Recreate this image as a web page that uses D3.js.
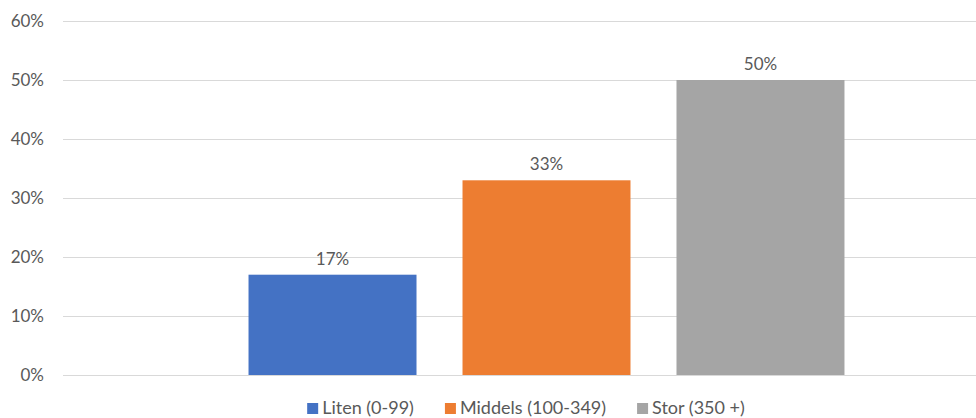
<!DOCTYPE html>
<html>
<head>
<meta charset="utf-8">
<script src="https://cdn.jsdelivr.net/npm/d3@7"></script>
<style>
  html, body { margin: 0; padding: 0; background: #fff; }
  svg { display: block; }
  text { font-family: Lato, "Open Sans", sans-serif; fill: #595959; }
</style>
</head>
<body>
<svg id="chart" width="976" height="418"></svg>
<script>
// Share of companies per size group
const series = ["Liten (0-99)", "Middels (100-349)", "Stor (350 +)"];
const values = [17, 33, 50];
const colors = ["#4472C4", "#ED7D31", "#A5A5A5"];
const yTicks = [0, 10, 20, 30, 40, 50, 60];

const svg = d3.select("#chart");
const W = 976;

const plot = { left: 63, right: 1030, top: 21, bottom: 375 };

const y = d3.scaleLinear().domain([0, 60]).range([plot.bottom, plot.top]);
const x = d3.scaleBand()
  .domain(series)
  .range([plot.left, plot.right])
  .paddingInner(0.215)
  .paddingOuter(0.867);

// horizontal gridlines
svg.append("g")
  .selectAll("line")
  .data(yTicks)
  .join("line")
  .attr("x1", plot.left)
  .attr("x2", W)
  .attr("y1", d => Math.round(y(d)) + 0.5)
  .attr("y2", d => Math.round(y(d)) + 0.5)
  .attr("stroke", "#D9D9D9")
  .attr("stroke-width", 1);

// y-axis labels
svg.append("g")
  .selectAll("text")
  .data(yTicks)
  .join("text")
  .attr("x", 44)
  .attr("y", d => y(d))
  .attr("dy", "0.35em")
  .attr("text-anchor", "end")
  .attr("font-size", 17)
  .text(d => d + "%");

// bars
svg.append("g")
  .selectAll("rect")
  .data(series)
  .join("rect")
  .attr("x", d => x(d))
  .attr("width", x.bandwidth())
  .attr("y", (d, i) => y(values[i]))
  .attr("height", (d, i) => y(0) - y(values[i]))
  .attr("fill", (d, i) => colors[i]);

// value labels
svg.append("g")
  .selectAll("text")
  .data(series)
  .join("text")
  .attr("x", d => x(d) + x.bandwidth() / 2)
  .attr("y", (d, i) => y(values[i]) - 10)
  .attr("text-anchor", "middle")
  .attr("font-size", 17)
  .text((d, i) => values[i] + "%");

// legend
const legend = svg.append("g");
const items = legend.selectAll("g")
  .data(series)
  .join("g");
items.append("rect")
  .attr("width", 11)
  .attr("height", 11)
  .attr("y", -11)
  .attr("fill", (d, i) => colors[i]);
items.append("text")
  .attr("x", 15)
  .attr("y", 0)
  .attr("font-size", 18)
  .text(d => d);

let offset = 0;
const gap = 31;
items.each(function () {
  const g = d3.select(this);
  const w = 15 + g.select("text").node().getComputedTextLength();
  g.attr("transform", `translate(${offset},0)`);
  offset += w + gap;
});
const totalW = offset - gap;
legend.attr("transform", `translate(${526 - totalW / 2},414)`);
</script>
</body>
</html>
